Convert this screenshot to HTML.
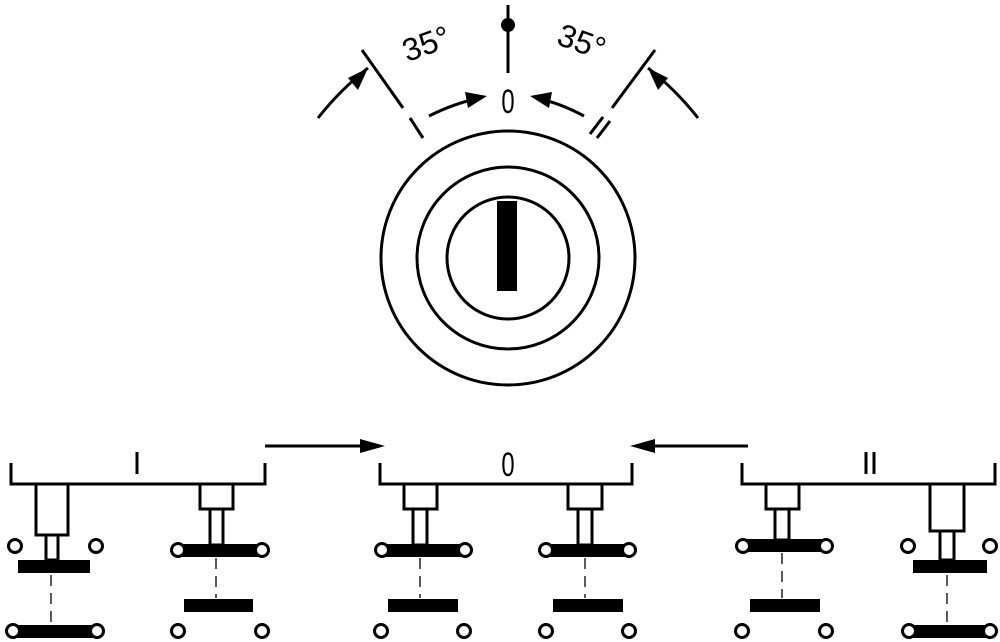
<!DOCTYPE html>
<html><head><meta charset="utf-8"><style>html,body{margin:0;padding:0;background:#fff}svg{display:block}</style></head>
<body>
<svg width="1000" height="642" viewBox="0 0 1000 642" xmlns="http://www.w3.org/2000/svg" font-family="Liberation Sans, sans-serif">
<g fill="none" stroke="#000" stroke-width="3">
<line x1="508" y1="5" x2="508" y2="73"/>
<line x1="362" y1="50" x2="403" y2="108"/>
<line x1="410" y1="118" x2="423" y2="138"/>
<line x1="655" y1="50" x2="612" y2="108"/>
<line x1="590" y1="134" x2="603" y2="117"/>
<line x1="597" y1="138" x2="610" y2="121"/>
<path d="M318,118 Q340,90 368,68"/>
<path d="M429,116 Q455,103 480,98"/>
<path d="M584,116 Q560,103 536,98"/>
<path d="M698,118 Q676,90 648,68"/>
<circle cx="508" cy="258" r="127"/>
<circle cx="508" cy="258" r="91"/>
<circle cx="508" cy="258" r="61"/>
<path d="M11,463 V484 H265 V463"/>
<path d="M380,463 V484 H632 V463"/>
<path d="M742,463 V484 H995 V463"/>
<line x1="137" y1="452" x2="137" y2="474"/>
<line x1="866" y1="452" x2="866" y2="474"/>
<line x1="874" y1="452" x2="874" y2="474"/>
<line x1="265" y1="446" x2="370" y2="446"/>
<line x1="748" y1="446" x2="645" y2="446"/>
<rect x="36" y="484" width="32" height="51"/>
<rect x="46" y="535" width="12" height="25"/>
<rect x="200" y="484" width="33" height="25"/>
<rect x="210" y="509" width="13" height="36"/>
<rect x="404" y="484" width="33" height="25"/>
<rect x="413" y="509" width="14" height="36"/>
<rect x="568" y="484" width="34" height="25"/>
<rect x="578" y="509" width="14" height="36"/>
<rect x="766" y="484" width="33" height="25"/>
<rect x="775" y="509" width="14" height="31"/>
<rect x="930" y="484" width="34" height="47"/>
<rect x="940" y="531" width="14" height="29"/>
</g>
<g stroke="#000" stroke-width="1.3" stroke-dasharray="11,7">
<line x1="51" y1="575" x2="51" y2="627"/>
<line x1="216" y1="558" x2="216" y2="598"/>
<line x1="420" y1="558" x2="420" y2="598"/>
<line x1="585" y1="558" x2="585" y2="598"/>
<line x1="782" y1="553" x2="782" y2="598"/>
<line x1="947" y1="575" x2="947" y2="627"/>
</g>
<g fill="#000">
<circle cx="508" cy="25" r="7"/>
<polygon points="368,68 348,78 358,90"/>
<polygon points="487,96 465,92 468,108"/>
<polygon points="530,96 552,92 549,108"/>
<polygon points="648,68 668,78 658,90"/>
<polygon points="385,446 360,439 360,453"/>
<polygon points="630,446 655,439 655,453"/>
<rect x="497" y="201" width="20" height="90"/>
<rect x="18" y="560" width="72" height="13"/>
<rect x="15" y="625" width="82" height="13"/>
<rect x="178" y="544" width="84" height="13"/>
<rect x="184" y="599" width="69" height="13"/>
<rect x="382" y="544" width="83" height="13"/>
<rect x="388" y="599" width="70" height="13"/>
<rect x="546" y="544" width="83" height="13"/>
<rect x="553" y="599" width="70" height="13"/>
<rect x="743" y="539" width="83" height="13"/>
<rect x="750" y="599" width="70" height="13"/>
<rect x="913" y="560" width="74" height="13"/>
<rect x="909" y="625" width="81" height="13"/>
</g>
<g fill="#fff" stroke="#000" stroke-width="3">
<circle cx="15" cy="546" r="6.5"/><circle cx="96" cy="546" r="6.5"/>
<circle cx="13" cy="631" r="6.5"/><circle cx="97" cy="631" r="6.5"/>
<circle cx="178" cy="550" r="6.5"/><circle cx="262" cy="550" r="6.5"/>
<circle cx="178" cy="631" r="6.5"/><circle cx="262" cy="631" r="6.5"/>
<circle cx="382" cy="550" r="6.5"/><circle cx="465" cy="550" r="6.5"/>
<circle cx="381" cy="631" r="6.5"/><circle cx="464" cy="631" r="6.5"/>
<circle cx="546" cy="550" r="6.5"/><circle cx="629" cy="550" r="6.5"/>
<circle cx="546" cy="631" r="6.5"/><circle cx="629" cy="631" r="6.5"/>
<circle cx="743" cy="546" r="6.5"/><circle cx="826" cy="546" r="6.5"/>
<circle cx="742" cy="631" r="6.5"/><circle cx="826" cy="631" r="6.5"/>
<circle cx="908" cy="546" r="6.5"/><circle cx="990" cy="546" r="6.5"/>
<circle cx="909" cy="631" r="6.5"/><circle cx="990" cy="631" r="6.5"/>
</g>
<g fill="#000" font-size="34" text-anchor="middle">
<text x="0" y="0" transform="translate(508,113) scale(0.7,1)">0</text>
<text x="0" y="0" transform="translate(508,476) scale(0.7,1)">0</text>
<text x="0" y="0" transform="translate(430,54) rotate(-20)" font-size="32">35°</text>
<text x="0" y="0" transform="translate(578,52) rotate(20)" font-size="32">35°</text>
</g>
</svg>
</body></html>
